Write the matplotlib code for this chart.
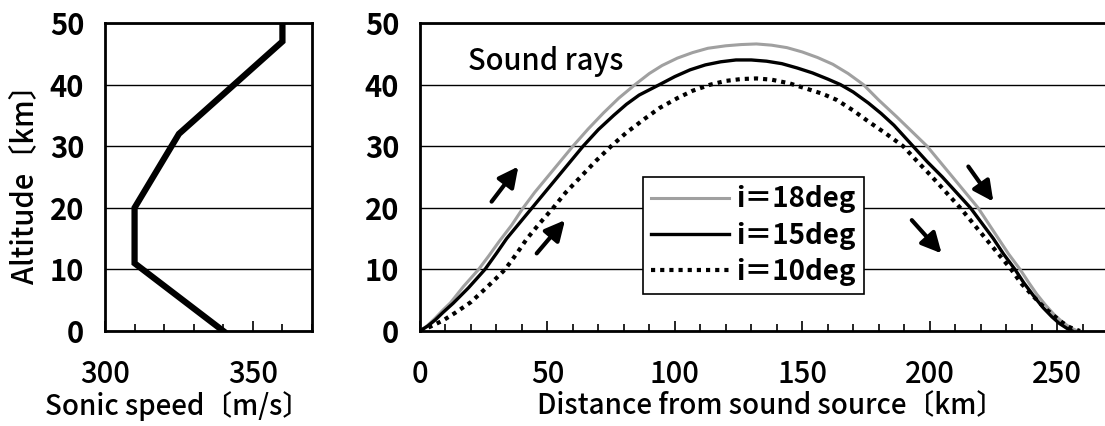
import numpy as np
import matplotlib
matplotlib.use('Agg')
import matplotlib.pyplot as plt
from matplotlib.ticker import MultipleLocator

plt.rcParams['font.family'] = ['Noto Sans CJK JP', 'DejaVu Sans']

# sonic speed profile
speed = [340, 310, 310, 325, 360, 360]
altitude = [0, 11, 20, 32, 47, 50]

# sound rays (distance km, altitude km)
x18 = [0, 3, 6, 9, 12, 17, 23, 27, 31, 36, 40.5, 45, 50, 55, 60, 66, 72, 78,
       84.4, 90, 95, 101, 107, 113, 120, 126, 132, 138, 144, 150, 156, 162, 168,
       174, 180, 187, 193, 199, 204, 209, 214, 219, 223, 227, 231, 235.5, 239,
       242, 245.5, 249, 252, 255, 258]
y18 = [0, 0.9, 2.1, 3.4, 4.6, 7.2, 10, 12.2, 14.5, 17.2, 20, 22.5, 25, 27.5, 30,
       32.8, 35.4, 37.8, 40, 41.8, 43.1, 44.3, 45.2, 45.9, 46.3, 46.5, 46.6, 46.4,
       46.0, 45.3, 44.4, 43.3, 41.8, 40, 37.5, 34.8, 32.4, 30, 27.5, 25, 22.5, 20,
       17.5, 15, 12.5, 10, 7.8, 6, 4.2, 2.6, 1.5, 0.6, 0]

x15 = [0, 3, 6, 9, 13, 19, 25.5, 30, 34, 39, 44, 49, 54, 59, 64, 70, 76, 81, 86,
       94, 100, 106, 112, 118, 124, 130, 136, 142, 148, 154, 160, 165, 170, 176,
       181, 186, 193.5, 199, 205, 210.5, 216, 220.5, 225, 229, 233.5, 237, 241,
       244.5, 248, 251, 254, 256]
y15 = [0, 0.8, 1.8, 3, 4.5, 7, 10, 12.6, 15, 17.5, 20, 22.5, 25, 27.5, 30, 32.7,
       35, 36.8, 38.3, 40, 41.3, 42.4, 43.2, 43.7, 44, 44, 43.8, 43.4, 42.7, 41.9,
       40.9, 40, 38.8, 37, 35.3, 33.4, 30, 27.5, 25, 22.5, 20, 17.5, 15, 12.5, 10,
       7.8, 5.6, 3.8, 2.3, 1.2, 0.4, 0]

x10 = [0, 4, 9, 14, 20, 26, 30, 33.4, 38, 42, 47, 52.3, 57, 63, 69, 75, 81, 88,
       94, 101, 107, 114, 120, 126, 132, 138, 145, 152, 158, 163.6, 170, 176, 183,
       189.6, 195, 201, 206.5, 212, 217, 222, 227, 232, 236, 241, 245, 249, 252,
       255, 259]
y10 = [0, 0.7, 1.7, 3, 4.7, 7, 8.6, 10, 12.6, 15, 17.5, 20, 22.4, 25, 27.6, 30,
       32.2, 34.4, 36.2, 37.8, 39, 40, 40.6, 40.9, 41, 40.8, 40.2, 39.3, 38.5,
       37.5, 35.8, 34, 32, 30, 27.6, 25, 22.5, 20, 17.5, 15, 12.5, 10, 7.7, 5.5,
       3.8, 2.4, 1.4, 0.6, 0]

labels = ['i＝18deg', 'i＝15deg', 'i＝10deg']

# direction arrows: (tail, head)
arrows = [((28.1, 21.0), (38.6, 26.7)),
          ((45.8, 12.6), (56.9, 18.0)),
          ((215.2, 26.7), (225.0, 21.0)),
          ((193.0, 18.0), (204.7, 12.6))]

W, H = 1105, 426
fig = plt.figure(figsize=(W / 100, H / 100), dpi=100)

ax1 = fig.add_axes([105 / W, 1 - 331 / H, 207 / W, 308 / H])
ax2 = fig.add_axes([420 / W, 1 - 331 / H, 688 / W, 308 / H])


def style(ax, xmin, xmax, major, minor):
    ax.set_xlim(xmin, xmax)
    ax.set_ylim(0, 50)
    ax.xaxis.set_major_locator(MultipleLocator(major))
    ax.xaxis.set_minor_locator(MultipleLocator(minor))
    ax.yaxis.set_major_locator(MultipleLocator(10))
    ax.grid(axis='y', color='black', lw=1.0)
    ax.set_axisbelow(True)
    ax.tick_params(axis='x', which='major', direction='in', length=7, width=1.2,
                   pad=20, labelsize=21)
    ax.tick_params(axis='x', which='minor', direction='in', length=5, width=1.2)
    ax.tick_params(axis='y', length=0, pad=15, labelsize=21)
    for lab in ax.get_yticklabels():
        lab.set_fontweight('bold')
    for lab in ax.get_xticklabels():
        lab.set_fontweight('medium')
    for s in ax.spines.values():
        s.set_linewidth(2)


style(ax1, 300, 370, 50, 10)
ax1.plot(speed, altitude, color='black', lw=4.5, solid_joinstyle='miter')
ax1.set_xlabel('Sonic speed〔m/s〕', fontsize=20, fontweight='medium')
ax1.xaxis.set_label_coords(0.35, -0.195)
ax1.set_ylabel('Altitude〔km〕', fontsize=21, fontweight='medium', labelpad=6)

style(ax2, 0, 270, 50, 10)
ax2.plot(x18, y18, color='#a0a0a0', lw=2.2, label=labels[0])
ax2.plot(x15, y15, color='black', lw=2.4, label=labels[1])
ax2.plot(x10, y10, color='black', lw=3, linestyle=(0, (1, 1.2)), label=labels[2])
ax2.set_xlabel('Distance from sound source〔km〕', fontsize=20, fontweight='medium')
ax2.xaxis.set_label_coords(0.51, -0.195)
ax2.text(18.8, 43.7, 'Sound rays', fontsize=21, fontweight='medium',
         va='center', ha='left')

for tail, head in arrows:
    ax2.annotate('', xy=head, xytext=tail,
                 arrowprops=dict(arrowstyle='-|>', lw=3, color='black',
                                 mutation_scale=30, shrinkA=0, shrinkB=0))

leg = ax2.legend(loc='upper left', bbox_to_anchor=(643 / W, 1 - 177 / H),
                 bbox_transform=fig.transFigure, borderaxespad=0,
                 fontsize=20, handlelength=2.8, handletextpad=0.25,
                 labelspacing=0.3, borderpad=0.3, fancybox=False,
                 framealpha=1, edgecolor='black')
leg.get_frame().set_linewidth(1.2)
for t in leg.get_texts():
    t.set_fontweight('bold')

fig.savefig('out.png', dpi=100)
